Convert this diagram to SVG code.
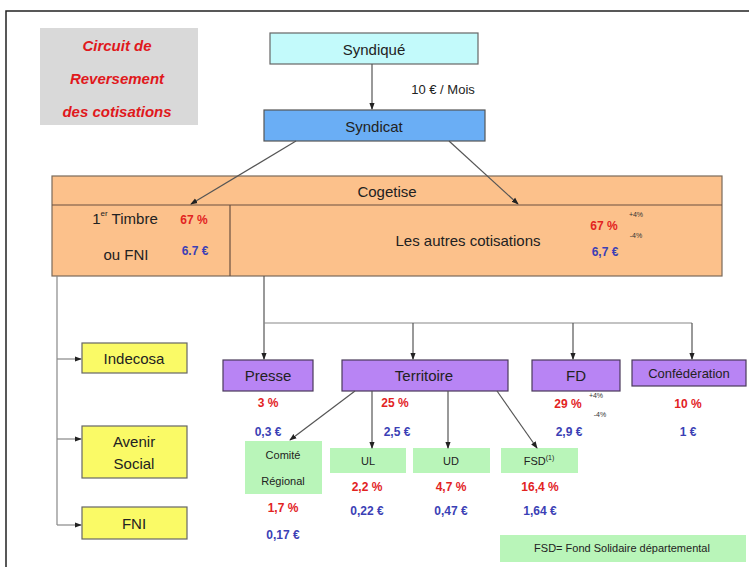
<svg xmlns="http://www.w3.org/2000/svg" width="749" height="567" viewBox="0 0 749 567">
<defs>
<style>
text{font-family:"Liberation Sans",Arial,sans-serif;fill:#222;text-anchor:middle;dominant-baseline:central}
.t{font-size:15px}
.m{font-size:13px}
.s{font-size:11px}
.r{fill:#e2231f;font-weight:bold;font-size:12px}
.b{fill:#3b3fb5;font-weight:bold;font-size:12px}
.x{font-size:7px;fill:#333}
.ttl{fill:#e0181c;font-weight:bold;font-style:italic;font-size:15px}
.pur{fill:#b884f4;stroke:#4a3a5a;stroke-width:1.2}
.yel{fill:#fafa66;stroke:#666;stroke-width:1.2}
.grn{fill:#b9f5b9;stroke:none}
.c{stroke:#555;stroke-width:1.2;fill:none}
.cl{stroke:#888;stroke-width:1.2;fill:none}
</style>
<marker id="a" viewBox="0 0 8 8" refX="7" refY="4" markerWidth="6" markerHeight="6" orient="auto">
<path d="M0,1 L8,4 L0,7 z" fill="#222"/>
</marker>
</defs>
<rect x="0" y="0" width="749" height="567" fill="#fff"/>
<path d="M6,567 V11 H749" fill="none" stroke="#222" stroke-width="1.5"/>

<g id="title">
<rect x="40" y="28" width="158" height="97" fill="#d9d9d9"/>
<text class="ttl" x="117" y="45">Circuit de</text>
<text class="ttl" x="117" y="78">Reversement</text>
<text class="ttl" x="117" y="111">des cotisations</text>
</g>

<g id="syndique">
<rect x="270" y="33" width="208" height="31" fill="#c3fafb" stroke="#666" stroke-width="1.2"/>
<text class="t" x="374" y="49">Syndiqué</text>
</g>
<text class="m" x="443" y="89">10 € / Mois</text>

<g id="syndicat">
<rect x="264" y="110" width="221" height="31" fill="#6aaef5" stroke="#555" stroke-width="1.2"/>
<text class="t" x="374" y="126">Syndicat</text>
</g>

<g id="cogetise">
<rect x="52" y="176" width="670" height="100" fill="#fcc18b" stroke="#7a6a5a" stroke-width="1.2"/>
<line x1="52" y1="205" x2="722" y2="205" stroke="#6a5040" stroke-width="1.2"/>
<line x1="230" y1="205" x2="230" y2="276" stroke="#6a5040" stroke-width="1.2"/>
<text class="t" x="387" y="191">Cogetise</text>
<text class="t" x="125" y="218">1<tspan font-size="8" dy="-5">er</tspan><tspan dy="5"> Timbre</tspan></text>
<text class="r" x="194" y="220">67 %</text>
<text class="t" x="126" y="254">ou FNI</text>
<text class="b" x="195" y="251">6.7 €</text>
<text class="t" x="468" y="240">Les autres cotisations</text>
<text class="r" x="604" y="226">67 %</text>
<text class="x" x="636" y="214">+4%</text>
<text class="x" x="636" y="235">-4%</text>
<text class="b" x="605" y="252">6,7 €</text>
</g>

<g id="indecosa">
<rect class="yel" x="82" y="343" width="105" height="30"/>
<text class="t" x="134" y="358">Indecosa</text>
</g>
<g id="avenir">
<rect class="yel" x="82" y="426" width="105" height="52"/>
<text class="t" x="134" y="441">Avenir</text>
<text class="t" x="134" y="463">Social</text>
</g>
<g id="fni">
<rect class="yel" x="82" y="507" width="105" height="32"/>
<text class="t" x="134" y="523">FNI</text>
</g>

<g id="presse">
<rect class="pur" x="223" y="360" width="90" height="31"/>
<text class="t" x="268" y="375">Presse</text>
<text class="r" x="268" y="403">3 %</text>
<text class="b" x="268" y="432">0,3 €</text>
</g>
<g id="territoire">
<rect class="pur" x="342" y="360" width="166" height="31"/>
<text class="t" x="424" y="375">Territoire</text>
<text class="r" x="395" y="403">25 %</text>
<text class="b" x="397" y="432">2,5 €</text>
</g>
<g id="fd">
<rect class="pur" x="532" y="360" width="88" height="31"/>
<text class="t" x="576" y="375">FD</text>
<text class="r" x="568" y="404">29 %</text>
<text class="x" x="596" y="395">+4%</text>
<text class="x" x="600" y="414">-4%</text>
<text class="b" x="569" y="432">2,9 €</text>
</g>
<g id="confederation">
<rect class="pur" x="632" y="360" width="114" height="26"/>
<text class="m" x="689" y="373">Confédération</text>
<text class="r" x="688" y="404">10 %</text>
<text class="b" x="688" y="432">1 €</text>
</g>

<g id="comite">
<rect class="grn" x="245" y="441" width="77" height="53"/>
<text class="s" x="283" y="455">Comité</text>
<text class="s" x="283" y="481">Régional</text>
<text class="r" x="283" y="508">1,7 %</text>
<text class="b" x="283" y="535">0,17 €</text>
</g>
<g id="ul">
<rect class="grn" x="330" y="448" width="76" height="25"/>
<text class="s" x="368" y="461">UL</text>
<text class="r" x="367" y="487">2,2 %</text>
<text class="b" x="367" y="511">0,22 €</text>
</g>
<g id="ud">
<rect class="grn" x="413" y="448" width="77" height="25"/>
<text class="s" x="451" y="461">UD</text>
<text class="r" x="451" y="487">4,7 %</text>
<text class="b" x="451" y="511">0,47 €</text>
</g>
<g id="fsd">
<rect class="grn" x="501" y="448" width="77" height="25"/>
<text class="s" x="539" y="461">FSD<tspan font-size="7" dy="-4">(1)</tspan></text>
<text class="r" x="540" y="487">16,4 %</text>
<text class="b" x="540" y="511">1,64 €</text>
</g>
<g id="legend">
<rect class="grn" x="500" y="535" width="246" height="27"/>
<text class="s" x="622" y="548">FSD= Fond Solidaire départemental</text>
</g>

<g id="connectors">
<line class="c" x1="372" y1="64" x2="372" y2="109" marker-end="url(#a)"/>
<line class="c" x1="296" y1="141" x2="191" y2="204" marker-end="url(#a)"/>
<line class="c" x1="449" y1="141" x2="518" y2="204" marker-end="url(#a)"/>
<path class="cl" d="M57,276 V525"/>
<line class="cl" x1="57" y1="359" x2="81" y2="359" marker-end="url(#a)"/>
<line class="cl" x1="57" y1="439" x2="81" y2="439" marker-end="url(#a)"/>
<line class="cl" x1="57" y1="525" x2="81" y2="525" marker-end="url(#a)"/>
<line class="c" x1="264" y1="276" x2="264" y2="359" marker-end="url(#a)"/>
<path class="cl" d="M264,323 H692"/>
<line class="c" x1="413" y1="323" x2="413" y2="359" marker-end="url(#a)"/>
<line class="c" x1="573" y1="323" x2="573" y2="359" marker-end="url(#a)"/>
<line class="c" x1="692" y1="323" x2="692" y2="359" marker-end="url(#a)"/>
<line class="c" x1="355" y1="391" x2="290" y2="440" marker-end="url(#a)"/>
<line class="c" x1="372" y1="391" x2="372" y2="448" marker-end="url(#a)"/>
<line class="c" x1="448" y1="391" x2="448" y2="448" marker-end="url(#a)"/>
<line class="c" x1="497" y1="391" x2="537" y2="448" marker-end="url(#a)"/>
</g>
</svg>
